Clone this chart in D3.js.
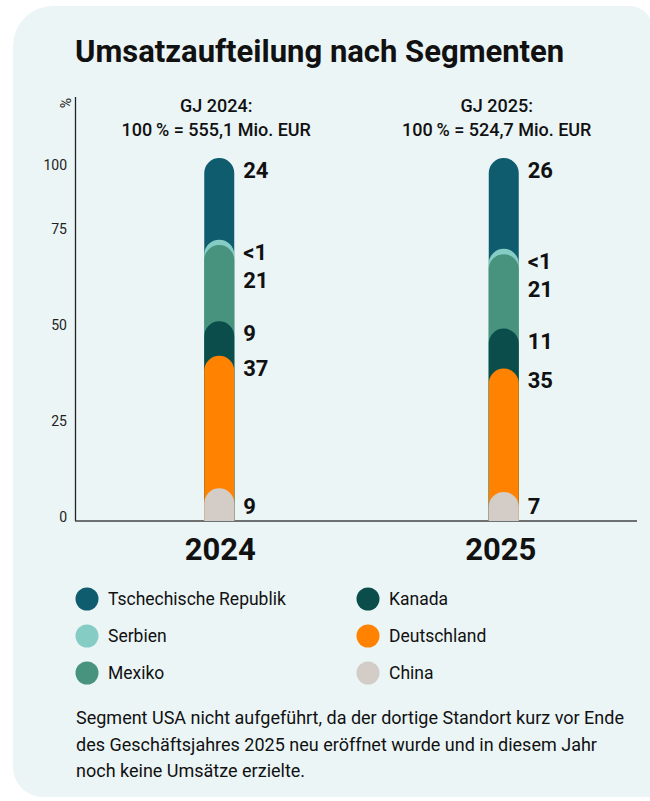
<!DOCTYPE html>
<html>
<head>
<meta charset="utf-8">
<script src="https://cdn.jsdelivr.net/npm/d3@7"></script>
<style>
  body { margin: 0; background: #fff; }
  svg { display: block; font-family: Roboto, "DejaVu Sans", sans-serif; }
</style>
</head>
<body>
<svg id="chart" width="650" height="801"></svg>
<script>
// segment names, top of the stack first
var segments = ["Tschechische Republik", "Serbien", "Mexiko", "Kanada", "Deutschland", "China"];
var colors = ["#0e5c6e", "#85cdc4", "#47937e", "#0a4d4b", "#ff8200", "#d3ccc7"];
var years = ["2024", "2025"];
// shares in %, as drawn
var values2024 = [22.5, 1.5, 21, 9.5, 36.5, 9];
var values2025 = [25, 1.5, 20.5, 11, 34, 8];
// printed labels
var labels2024 = ["24", "<1", "21", "9", "37", "9"];
var labels2025 = ["26", "<1", "21", "11", "35", "7"];
var headers = [["GJ 2024:", "100\u2009% = 555,1 Mio. EUR"], ["GJ 2025:", "100\u2009% = 524,7 Mio. EUR"]];
var yTicks = [0, 25, 50, 75, 100];
var legendOrder = ["Tschechische Republik", "Kanada", "Serbien", "Deutschland", "Mexiko", "China"];
var note = [
  "Segment USA nicht aufgeführt, da der dortige Standort kurz vor Ende",
  "des Geschäftsjahres 2025 neu eröffnet wurde und in diesem Jahr",
  "noch keine Umsätze erzielte."
];

var svg = d3.select("#chart");

// background panel
svg.append("path")
  .attr("d", "M13,46 A40,40 0 0 1 53,6 L630,6 A22,22 0 0 1 652,28 L652,797 L43,797 A30,30 0 0 1 13,767 Z")
  .attr("fill", "#ebf5f6");

svg.append("text")
  .attr("x", 75).attr("y", 62)
  .attr("font-size", 31).attr("font-weight", 700)
  .attr("fill", "#111")
  .text("Umsatzaufteilung nach Segmenten");

var x = d3.scaleBand().domain(years).range([76, 637]);
var y = d3.scaleLinear().domain([0, 100]).range([521, 158]);
// the printed tick labels sit on their own (uneven) spacing
var yLabel = d3.scaleLinear().domain([0, 75, 100]).range([517, 229, 165]);
var barW = 30;

// axis
svg.append("line")
  .attr("x1", 75.5).attr("x2", 75.5).attr("y1", 97).attr("y2", 521)
  .attr("stroke", "#222").attr("stroke-width", 1.3);
svg.append("line")
  .attr("x1", 75).attr("x2", 637).attr("y1", 521).attr("y2", 521)
  .attr("stroke", "#444").attr("stroke-width", 1.5);

var yAxis = svg.append("g")
  .attr("transform", "translate(75,0)")
  .call(d3.axisLeft(yLabel).tickValues(yTicks).tickSize(0).tickPadding(8));
yAxis.select(".domain").remove();
yAxis.selectAll("text")
  .attr("font-size", 14).attr("font-family", "Roboto, sans-serif").attr("fill", "#222");

svg.append("text")
  .attr("transform", "translate(71,103) rotate(-90)")
  .attr("text-anchor", "middle")
  .attr("font-size", 14).attr("fill", "#222")
  .text("%");

// headers
years.forEach(function (yr, i) {
  var cx = x(yr) + x.bandwidth() / 2;
  svg.append("text")
    .attr("x", cx).attr("y", 112)
    .attr("text-anchor", "middle").attr("font-size", 18).attr("font-weight", 500).attr("fill", "#111")
    .text(headers[i][0]);
  svg.append("text")
    .attr("x", cx).attr("y", 136)
    .attr("text-anchor", "middle").attr("font-size", 18).attr("font-weight", 500).attr("fill", "#111")
    .text(headers[i][1]);
  svg.append("text")
    .attr("x", cx + 4).attr("y", 560)
    .attr("text-anchor", "middle").attr("font-size", 31).attr("font-weight", 700).attr("fill", "#111")
    .text(yr);
});

// stack
var rows = years.map(function (yr, i) {
  var vals = i === 0 ? values2024 : values2025;
  var r = { year: yr };
  segments.forEach(function (s, j) { r[s] = vals[j]; });
  return r;
});
var stack = d3.stack().keys(segments.slice().reverse());
var series = stack(rows);
var seriesByName = {};
series.forEach(function (s) { seriesByName[s.key] = s; });

function roundTop(x0, y0, w, y1) {
  var r = w / 2;
  return "M" + x0 + "," + y1 + " L" + x0 + "," + (y0 + r) +
    " A" + r + "," + r + " 0 0 1 " + (x0 + w) + "," + (y0 + r) +
    " L" + (x0 + w) + "," + y1 + " Z";
}

years.forEach(function (yr, i) {
  var cx = x(yr) + x.bandwidth() / 2 + (i === 0 ? 3 : 7);
  var g = svg.append("g");
  var labels = i === 0 ? labels2024 : labels2025;
  var prev = -Infinity;
  segments.forEach(function (s, j) {
    var d = seriesByName[s][i];
    g.append("path")
      .attr("d", roundTop(cx - barW / 2, y(d[1]), barW, y(0)))
      .attr("fill", colors[j]);
    var ly = Math.max(y(d[1]) + 12, prev + 28.5);
    if (j === segments.length - 1) ly = Math.max(ly, y(0) - 15);
    prev = ly;
    g.append("text")
      .attr("x", cx + barW / 2 + 9).attr("y", ly)
      .attr("dy", "0.36em")
      .attr("font-size", 22).attr("font-weight", 700).attr("fill", "#111")
      .text(labels[j]);
  });
});

// legend
var legend = svg.append("g");
legendOrder.forEach(function (name, k) {
  var col = k % 2, row = Math.floor(k / 2);
  var lg = legend.append("g")
    .attr("transform", "translate(" + (87 + col * 281) + "," + (599 + row * 37) + ")");
  lg.append("circle").attr("r", 11.5).attr("fill", colors[segments.indexOf(name)]);
  lg.append("text")
    .attr("x", 21).attr("dy", "0.36em")
    .attr("font-size", 17.5).attr("fill", "#111")
    .text(name);
});

svg.append("g").selectAll("text")
  .data(note)
  .enter()
  .append("text")
  .attr("x", 76)
  .attr("y", function (d, i) { return 724 + i * 26.5; })
  .attr("font-size", 18).attr("fill", "#111")
  .text(function (d) { return d; });
</script>
</body>
</html>
